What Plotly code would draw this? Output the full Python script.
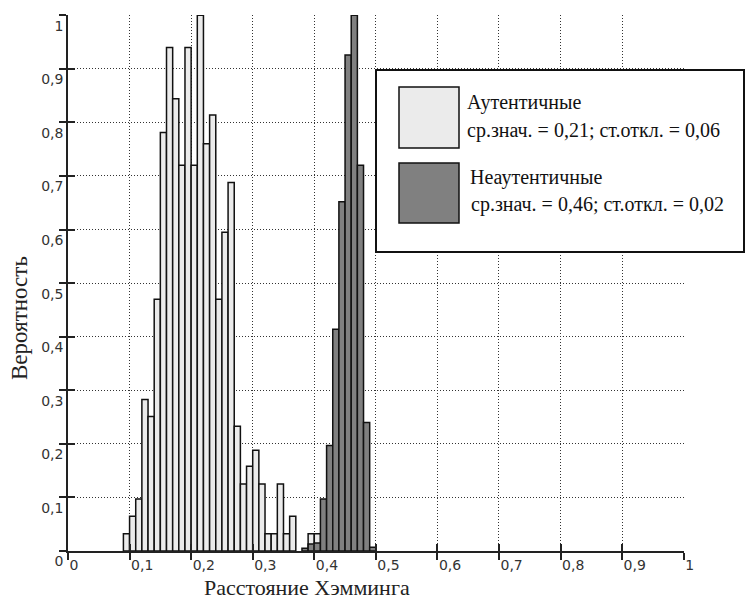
import plotly.graph_objects as go

# ---- data ----
bin_width = 0.01
auth_bin_left = [0.09, 0.10, 0.11, 0.12, 0.13, 0.14, 0.15, 0.16, 0.17, 0.18, 0.19, 0.20,
                 0.21, 0.22, 0.23, 0.24, 0.25, 0.26, 0.27, 0.28, 0.29, 0.30, 0.31, 0.32,
                 0.33, 0.34, 0.35, 0.36, 0.39, 0.40]
auth_prob = [0.032, 0.065, 0.097, 0.283, 0.251, 0.470, 0.781, 0.940, 0.844, 0.720, 0.940, 0.720,
             1.000, 0.760, 0.814, 0.470, 0.595, 0.688, 0.233, 0.125, 0.158, 0.188, 0.125, 0.032,
             0.032, 0.125, 0.032, 0.065, 0.032, 0.032]
imp_bin_left = [0.38, 0.39, 0.40, 0.41, 0.42, 0.43, 0.44, 0.45, 0.46, 0.47, 0.48, 0.49]
imp_prob = [0.005, 0.013, 0.015, 0.097, 0.197, 0.414, 0.652, 0.926, 1.000, 0.720, 0.240, 0.007]

tick_vals = [0, 0.1, 0.2, 0.3, 0.4, 0.5, 0.6, 0.7, 0.8, 0.9, 1]
tick_text = ["0", "0,1", "0,2", "0,3", "0,4", "0,5", "0,6", "0,7", "0,8", "0,9", "1"]

legend_names = ["Аутентичные", "Неаутентичные"]
legend_stats = ["ср.знач. = 0,21; ст.откл. = 0,06", "ср.знач. = 0,46; ст.откл. = 0,02"]
x_title = "Расстояние Хэмминга"
y_title = "Вероятность"

# ---- layout geometry (pixels) ----
W, H = 745, 600
L, R, T, B = 68, 61, 15, 49
PW, PH = W - L - R, H - T - B


def px(x):
    return (x - L) / PW


def py(y):
    return (H - B - y) / PH


LIGHT = "#ebebeb"
DARK = "#808080"
EDGE = "#111111"

fig = go.Figure()
fig.add_trace(go.Bar(
    x=[b + bin_width / 2 for b in auth_bin_left], y=auth_prob, width=bin_width,
    marker=dict(color=LIGHT, line=dict(color=EDGE, width=1.5)), opacity=1,
    showlegend=False, hoverinfo="skip"))
fig.add_trace(go.Bar(
    x=[b + bin_width / 2 for b in imp_bin_left], y=imp_prob, width=bin_width,
    marker=dict(color=DARK, line=dict(color=EDGE, width=1.5)), opacity=1,
    showlegend=False, hoverinfo="skip"))
# helper trace so the overlay axes (inner half of crossing ticks) are drawn
fig.add_trace(go.Scatter(x=[None], y=[None], xaxis="x2", yaxis="y2",
                         showlegend=False, hoverinfo="skip"))

tickfont = dict(family="DejaVu Sans", size=14, color="#333333")
common = dict(range=[0, 1.0005], tickvals=tick_vals, zeroline=False,
              showline=True, linecolor="#222222", linewidth=1.5,
              tickcolor="#222222", tickwidth=1.5, ticklen=7)
grid = dict(showgrid=True, gridcolor="#333333", gridwidth=1, griddash="1px,2px")

fig.update_layout(
    width=W, height=H, margin=dict(l=L, r=R, t=T, b=B, pad=0),
    paper_bgcolor="white", plot_bgcolor="white", barmode="overlay",
    xaxis=dict(**common, **grid, ticktext=tick_text, ticks="outside", tickfont=tickfont,
               ticklabelposition="outside right"),
    yaxis=dict(**common, **grid, ticktext=tick_text, ticks="outside", tickfont=tickfont,
               ticklabelposition="outside bottom"),
    xaxis2=dict(**common, overlaying="x", anchor="y2", side="bottom", ticks="inside",
                showticklabels=False, showgrid=False),
    yaxis2=dict(**common, overlaying="y", anchor="x2", side="left", ticks="inside",
                showticklabels=False, showgrid=False),
)

serif = "Liberation Serif"
ann = [
    dict(text=x_title, x=px(307), y=py(587), font=dict(family=serif, size=22, color="#222")),
    dict(text=y_title, x=px(19), y=py(318), textangle=-90,
         font=dict(family=serif, size=23, color="#222")),
    dict(text=legend_names[0], x=px(465), y=py(102), xanchor="left",
         font=dict(family=serif, size=20, color="#111")),
    dict(text=legend_stats[0], x=px(465), y=py(131), xanchor="left",
         font=dict(family=serif, size=20, color="#111")),
    dict(text=legend_names[1], x=px(468), y=py(178), xanchor="left",
         font=dict(family=serif, size=20, color="#111")),
    dict(text=legend_stats[1], x=px(469), y=py(204), xanchor="left",
         font=dict(family=serif, size=20, color="#111")),
]
for a in ann:
    a.setdefault("xanchor", "center")
    fig.add_annotation(xref="paper", yref="paper", yanchor="middle", showarrow=False, **a)

shapes = [
    dict(x0=px(376), x1=px(744), y0=py(70), y1=py(252), line=dict(color="#111", width=2),
         fillcolor="white"),
    dict(x0=px(399), x1=px(459), y0=py(87), y1=py(148), line=dict(color="#111", width=1.5),
         fillcolor=LIGHT),
    dict(x0=px(399), x1=px(459), y0=py(163), y1=py(223), line=dict(color="#111", width=1.5),
         fillcolor=DARK),
]
for s in shapes:
    fig.add_shape(type="rect", xref="paper", yref="paper", layer="above", **s)

fig.write_html("out.html", config={"displayModeBar": False},
               post_script="document.body.style.margin='0';")
